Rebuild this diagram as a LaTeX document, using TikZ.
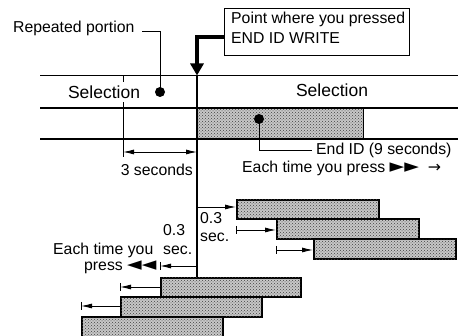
\documentclass[tikz,border=0pt]{standalone}
\usepackage{fontspec}
\setmainfont{Liberation Sans}
\newfontfamily\symfont{DejaVu Sans}
\usetikzlibrary{arrows.meta,patterns}
\begin{document}
\begin{tikzpicture}[x=1pt,y=-1pt,
  lbl/.style={font=\fontsize{15.8}{19}\selectfont, inner sep=0pt},
  sel/.style={font=\fontsize{17.5}{20}\selectfont, inner xsep=1pt, inner ysep=4pt},
  rail/.style={line width=1.3pt},
  thinline/.style={line width=0.9pt},
  dimarrow/.style={line width=0.9pt, -{Latex[length=11pt,width=5pt]}},
  shade/.style={fill=black!22, postaction={pattern=crosshatch dots, pattern color=black!75}},
  seg/.style={draw, line width=1.9pt, shade, anchor=north west, inner sep=0pt},
  dotmark/.style={circle, fill=black, inner sep=0pt, minimum size=10pt},
]
\newcommand{\bigsym}[1]{{\symfont\fontsize{19}{19}\selectfont\smash{#1}}}
\useasboundingbox (0,0) rectangle (458,336);
\clip (0,0) rectangle (458,336);

% shaded End ID region
\path[shade] (197,108) rectangle (363,139);
\coordinate (shtop) at (363,108);
\coordinate (shbot) at (363,139);
\draw[thinline] (shtop) -- (shbot);

% rails
\coordinate (r1l) at (40,75.5);  \coordinate (r1r) at (458,75.5);
\coordinate (r2l) at (40,108);   \coordinate (r2r) at (458,108);
\coordinate (r3l) at (40,139);   \coordinate (r3r) at (458,139);
\draw[rail] (r1l) -- (r1r);
\draw[rail] (r2l) -- (r2r);
\draw[rail] (r3l) -- (r3r);

% main vertical line
\coordinate (vtop) at (197,75.5);
\coordinate (vbot) at (197,277);
\draw[rail] (vtop) -- (vbot);

% 3 seconds dimension
\coordinate (tlt) at (123,75.5);
\coordinate (tlb) at (123,157);
\draw[thinline] (tlt) -- (tlb);
\coordinate (dl) at (123,152);
\coordinate (dr) at (197,152);
\draw[line width=0.9pt, {Latex[length=11pt,width=5pt]}-{Latex[length=11pt,width=5pt]}] (dl) -- (dr);
\node[lbl, anchor=east] (three) at (193,170) {3 seconds};

% selection labels
\node[sel, fill=white] (selL) at (104,92) {Selection};
\node[sel] (selR) at (332,90) {Selection};

% repeated portion
\node[lbl, anchor=west] (rp) at (13,28) {Repeated portion};
\node[dotmark] (d1) at (160,92) {};
\coordinate (rpc) at (160,31);
\coordinate (rpl) at (142,31);
\draw[thinline] (d1.center) -- (rpc) -- (rpl);

% End ID
\node[lbl, anchor=west] (eid) at (316,150) {End ID (9 seconds)};
\node[dotmark] (d2) at (259,119) {};
\draw[thinline] (d2.center) |- ([xshift=-4pt]eid.west);

% callout
\node[draw, line width=0.9pt, anchor=north west, minimum width=185pt, minimum height=47pt, inner sep=0pt] (callout) at (224,8) {};
\node[lbl, anchor=west] (pt1) at (231,19) {Point where you pressed};
\node[lbl, anchor=west] (pt2) at (231,38) {END ID WRITE};
\coordinate (kstart) at (224,37);
\coordinate (kbend) at (197,37);
\draw[line width=4pt, line join=miter, -{Triangle[length=12pt,width=13pt]}] (kstart) -- (kbend) -- (vtop);

% forward label
\node[lbl, anchor=west] (each1) at (242,168) {Each time you press \bigsym{►►}\hspace{9pt}{\symfont →}};

% forward segments
\node[seg, minimum width=142pt, minimum height=19pt] (R1) at (236,199) {};
\node[seg, minimum width=142pt, minimum height=20pt] (R2) at (276,218.5) {};
\node[seg, minimum width=142pt, minimum height=20pt] (R3) at (313,238.5) {};

\coordinate (a1s) at (197,207);
\draw[dimarrow] (a1s) -- (a1s -| R1.west);
\coordinate (a2s) at (236,230);
\draw[thinline] ([yshift=4pt]a2s) -- ([yshift=-4pt]a2s);
\draw[dimarrow] (a2s) -- (a2s -| R2.west);
\coordinate (a3s) at (276,250);
\draw[thinline] ([yshift=4pt]a3s) -- ([yshift=-4pt]a3s);
\draw[dimarrow] (a3s) -- (a3s -| R3.west);

\node[lbl, anchor=west] (r03) at (200,218) {0.3};
\node[lbl, anchor=west] (rsec) at (200,237) {sec.};

% backward labels
\node[lbl, anchor=west] (l03) at (163,230) {0.3};
\node[lbl, anchor=west] (lsec) at (163,250) {sec.};
\node[lbl, anchor=west] (each2) at (53,250) {Each time you};
\node[lbl, anchor=west] (press2) at (84,268) {press \bigsym{◄◄}};

% backward segments
\node[seg, minimum width=140pt, minimum height=19pt] (L1) at (160,277) {};
\node[seg, minimum width=141pt, minimum height=20pt] (L2) at (120,296.5) {};
\node[seg, minimum width=141pt, minimum height=26pt] (L3) at (81,316.5) {};

\coordinate (b1s) at (197,266);
\coordinate (b1e) at (b1s -| L1.west);
\draw[dimarrow] (b1s) -- (b1e);
\draw[thinline] ([yshift=4pt]b1e) -- ([yshift=-4pt]b1e);
\coordinate (b2s) at (160,287);
\coordinate (b2e) at (b2s -| L2.west);
\draw[dimarrow] (b2s) -- (b2e);
\draw[thinline] ([yshift=4pt]b2e) -- ([yshift=-4pt]b2e);
\coordinate (b3s) at (120,306);
\coordinate (b3e) at (b3s -| L3.west);
\draw[dimarrow] (b3s) -- (b3e);
\draw[thinline] ([yshift=4pt]b3e) -- ([yshift=-4pt]b3e);
\end{tikzpicture}
\end{document}
